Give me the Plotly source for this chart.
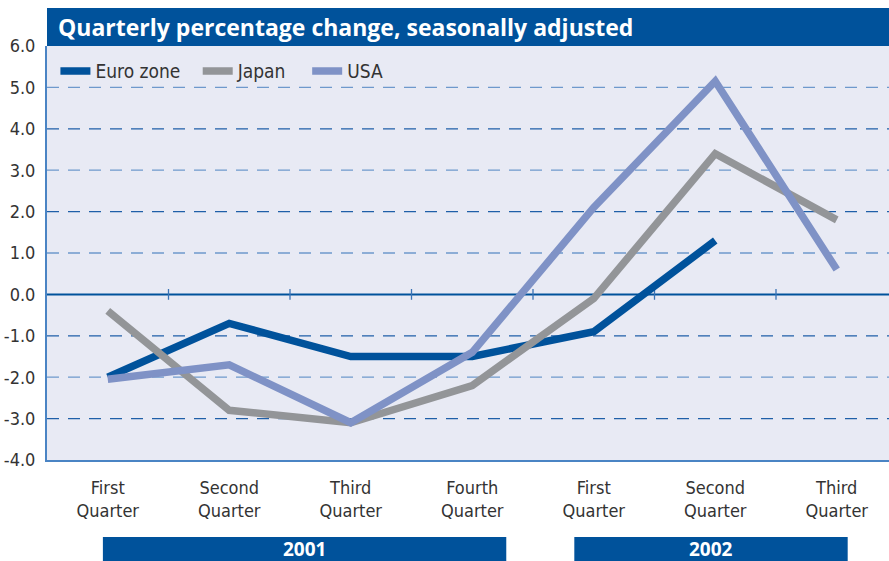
import plotly.graph_objects as go

# Data
quarters = ["First<br>Quarter", "Second<br>Quarter", "Third<br>Quarter", "Fourth<br>Quarter",
            "First<br>Quarter", "Second<br>Quarter", "Third<br>Quarter"]
euro_zone = [-2.0, -0.7, -1.5, -1.5, -0.9, 1.3, None]
japan = [-0.4, -2.8, -3.1, -2.2, -0.1, 3.4, 1.8]
usa = [-2.05, -1.7, -3.1, -1.4, 2.1, 5.15, 0.6]
years = ["2001", "2002"]
year_spans = [(-0.04, 3.28), (3.84, 6.09)]
y_ticks = [-4, -3, -2, -1, 0, 1, 2, 3, 4, 5, 6]

DARK_BLUE = "#00529B"
GREY = "#939598"
LAVENDER = "#7F92C6"
PLOT_BG = "#E8EAF4"
FONT = "DejaVu Sans Condensed, Roboto, sans-serif"
BOLD_FONT = "Open Sans, Liberation Sans, Arial, sans-serif"

PLOT_H = 561 - 46 - 101

x = list(range(len(quarters)))

# each series gets its own legend box so the spacing can follow the original
series = [("Euro zone", euro_zone, DARK_BLUE, "legend", 0.01),
          ("Japan", japan, GREY, "legend2", 0.179),
          ("USA", usa, LAVENDER, "legend3", 0.309)]

fig = go.Figure()
legends = {}
for name, vals, color, leg, lx in series:
    fig.add_trace(go.Scatter(
        x=x, y=vals, name=name, mode="lines",
        line=dict(color=color, width=7.5),
        connectgaps=False, legend=leg,
    ))
    legends[leg] = dict(x=lx, y=0.985, xanchor="left", yanchor="top",
                        bgcolor="rgba(0,0,0,0)", font=dict(size=19, color="#333333"),
                        itemwidth=30)

shapes = []
# dashed grid lines; the original shows them in two shades
for v in y_ticks:
    if v in (-4, 0, 6):
        continue
    dark = (v > 0 and v % 2 == 0) or (v < 0 and v % 2 == 1)
    color = "#1F5FA8" if dark else "#6E99CC"
    shapes.append(dict(type="line", xref="paper", yref="y", x0=0, x1=1, y0=v, y1=v,
                       line=dict(color=color, width=1.3, dash="12px,9px"), layer="below"))
# zero line with small ticks between quarters
shapes.append(dict(type="line", xref="paper", yref="y", x0=0, x1=1, y0=0, y1=0,
                   line=dict(color=DARK_BLUE, width=2), layer="below"))
for i in range(len(quarters)):
    shapes.append(dict(type="line", xref="x", yref="y", x0=i + 0.5, x1=i + 0.5, y0=-0.13, y1=0.13,
                       line=dict(color="#3B73B5", width=1.3), layer="below"))
# title bar
shapes.append(dict(type="rect", xref="paper", yref="paper", x0=0, x1=1, y0=1, y1=1 + 38 / PLOT_H,
                   fillcolor=DARK_BLUE, line_width=0))
# year bars
for (a, b) in year_spans:
    shapes.append(dict(type="rect", xref="x", yref="paper", x0=a, x1=b,
                       y0=-101 / PLOT_H, y1=-77 / PLOT_H, fillcolor=DARK_BLUE, line_width=0))

annotations = [dict(
    text="Quarterly percentage change, seasonally adjusted",
    xref="paper", yref="paper", x=0, y=1 + 19 / PLOT_H, xshift=9,
    xanchor="left", yanchor="middle", showarrow=False,
    font=dict(family=BOLD_FONT, size=23, color="white", weight="bold"),
)]
for label, (a, b) in zip(years, year_spans):
    annotations.append(dict(
        text=label, xref="x", yref="paper", x=(a + b) / 2, y=-89 / PLOT_H,
        xanchor="center", yanchor="middle", showarrow=False,
        font=dict(family=BOLD_FONT, size=19, color="white", weight="bold"),
    ))

fig.update_layout(
    width=889, height=561,
    margin=dict(l=47, r=0, t=46, b=101),
    paper_bgcolor="white",
    plot_bgcolor=PLOT_BG,
    font=dict(family=FONT, color="#333333", size=18),
    showlegend=True,
    xaxis=dict(range=[-0.5, 6.43], tickvals=x, ticktext=quarters, showgrid=False,
               zeroline=False, showline=True, linecolor="#4A84C4", linewidth=2,
               ticks="", ticklabelstandoff=10, tickfont=dict(size=18, color="#333333")),
    yaxis=dict(range=[-4, 6], tickvals=y_ticks, ticktext=[f"{v:.1f}" for v in y_ticks],
               showgrid=False, zeroline=False, showline=True, linecolor="#4A84C4", linewidth=2,
               ticks="", ticklabelstandoff=6, tickfont=dict(size=18, color="#333333")),
    shapes=shapes,
    annotations=annotations,
    **legends,
)

fig.write_html("out.html", config={"displayModeBar": False},
               post_script="document.body.style.margin='0';")
